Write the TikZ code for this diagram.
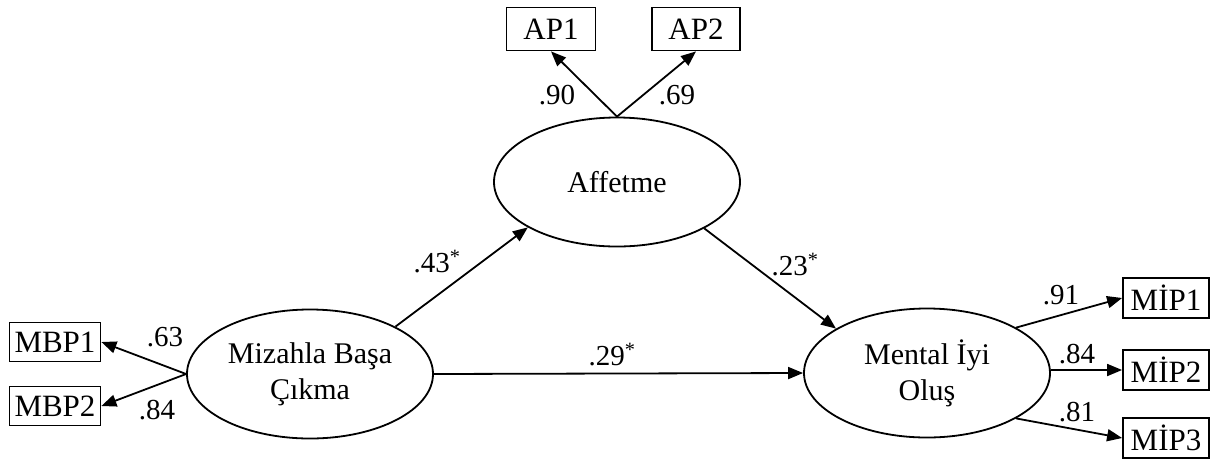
\documentclass[tikz,border=0pt]{standalone}
\usepackage{fontspec}
\setmainfont{Liberation Serif}
\usetikzlibrary{shapes.geometric,arrows.meta}
\begin{document}
\begin{tikzpicture}[x=1pt,y=-1pt,
  every node/.style={font=\fontsize{30}{36}\selectfont},
  latent/.style={draw, ellipse, line width=1.8pt, minimum width=246pt, minimum height=129pt, inner sep=0pt, align=center},
  obs/.style={draw, rectangle, line width=1.8pt, inner sep=0pt, minimum height=40pt, font=\fontsize{31}{36}\selectfont},
  pathline/.style={line width=1.8pt, -{Triangle[length=15pt,width=12pt]}},
  coef/.style={inner sep=0pt, font=\fontsize{29}{34}\selectfont}]
\useasboundingbox (0,0) rectangle (1211,459);
% latent variables
\node[latent] (aff) at (617,182) {Affetme};
\node[latent] (miz) at (310,374) {Mizahla Başa\\Çıkma};
\node[latent] (men) at (927,373) {Mental İyi\\Oluş};
% observed
\node[obs, minimum width=89pt, minimum height=43pt] (ap1) at (551,29) {AP1};
\node[obs, minimum width=88pt, minimum height=43pt] (ap2) at (696,29) {AP2};
\node[obs, minimum width=91pt, minimum height=39pt] (mbp1) at (55,342) {MBP1};
\node[obs, minimum width=91pt, minimum height=39pt] (mbp2) at (55,406) {MBP2};
\node[obs, minimum width=86pt] (mip1) at (1166,298) {MİP1};
\node[obs, minimum width=86pt] (mip2) at (1166,370) {MİP2};
\node[obs, minimum width=86pt] (mip3) at (1166,438) {MİP3};
% paths
\draw[pathline] (aff.north) -- (ap1.south);
\draw[pathline] (aff.north) -- (ap2.south);
\draw[pathline] (miz.west) -- (mbp1.east);
\draw[pathline] (miz.west) -- (mbp2.east);
\draw[pathline] (miz.29) -- (aff.207);
\draw[pathline] (aff.332) -- (men.154);
\draw[pathline] (miz.east) -- (men.west);
\draw[pathline] (men.27) -- (mip1.west);
\draw[pathline] (men.east |- mip2.west) -- (mip2.west);
\draw[pathline] (men.333) -- (mip3.west);
% coefficients
\node[coef] (c90) at (557,95) {.90};
\node[coef] (c69) at (677,95) {.69};
\node[coef] (c63) at (165,337) {.63};
\node[coef] (c84a) at (157,410) {.84};
\node[coef] (c43) at (437,262) {.43\textsuperscript{*}};
\node[coef] (c23) at (795,265) {.23\textsuperscript{*}};
\node[coef] (c29) at (612,355) {.29\textsuperscript{*}};
\node[coef] (c91) at (1061,295) {.91};
\node[coef] (c84b) at (1077,354) {.84};
\node[coef] (c81) at (1077,412) {.81};
\end{tikzpicture}
\end{document}
